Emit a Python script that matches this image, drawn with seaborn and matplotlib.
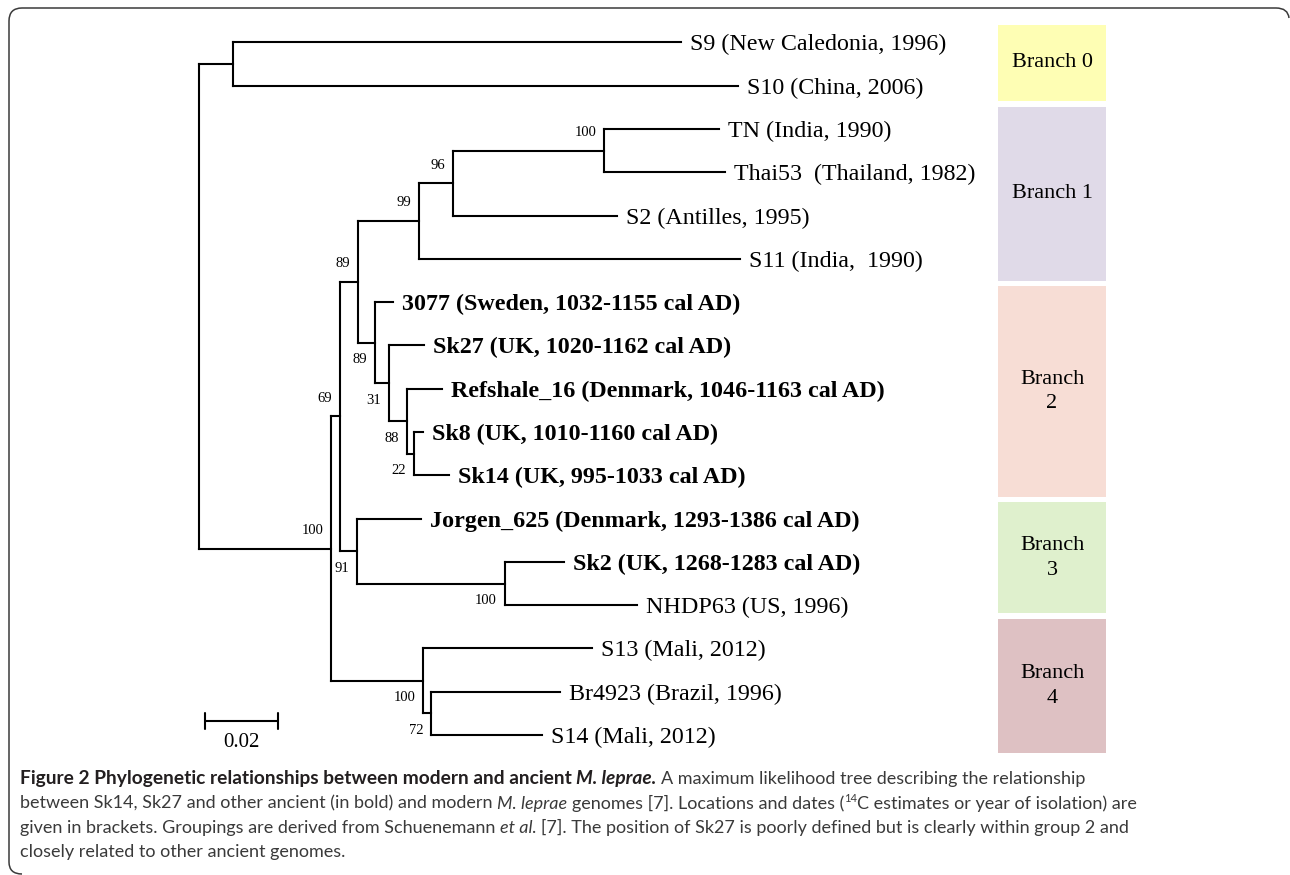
import matplotlib
matplotlib.use('Agg')
import pandas as pd
import matplotlib.pyplot as plt
import seaborn as sns
from matplotlib.patches import Rectangle, PathPatch
from matplotlib.path import Path
from matplotlib.font_manager import FontProperties

# --- tree data (node, parent, branch length in substitutions/site) ---
nodes = ['R', 'A', 'S9', 'S10', 'B', 'C', 'F', 'H', 'I', 'O', 'TN', 'Thai53', 'S2', 'S11',
         'J', '3077', 'K', 'Sk27', 'L', 'Refshale_16', 'M', 'Sk8', 'Sk14',
         'G', 'Jorgen_625', 'N', 'Sk2', 'NHDP63', 'D', 'S13', 'E', 'Br4923', 'S14']
parents = [None, 'R', 'A', 'A', 'R', 'B', 'C', 'F', 'H', 'I', 'O', 'O', 'I', 'H',
           'F', 'J', 'J', 'K', 'K', 'L', 'L', 'M', 'M',
           'C', 'G', 'G', 'N', 'N', 'B', 'D', 'D', 'E', 'E']
branch_len = [0.0, 0.0093, 0.1227, 0.1384, 0.0362, 0.0025, 0.0049, 0.0167, 0.0093, 0.0414,
              0.0315, 0.0332, 0.0449, 0.0879, 0.0047, 0.0049, 0.0038, 0.0096, 0.0049,
              0.0096, 0.0019, 0.0025, 0.0096, 0.0047, 0.0173, 0.0403, 0.0162, 0.0364,
              0.0252, 0.0463, 0.0022, 0.0353, 0.0304]

tip_order = ['S9', 'S10', 'TN', 'Thai53', 'S2', 'S11', '3077', 'Sk27', 'Refshale_16', 'Sk8',
             'Sk14', 'Jorgen_625', 'Sk2', 'NHDP63', 'S13', 'Br4923', 'S14']
tip_labels = ['S9 (New Caledonia, 1996)', 'S10 (China, 2006)', 'TN (India, 1990)',
              'Thai53  (Thailand, 1982)', 'S2 (Antilles, 1995)', 'S11 (India,  1990)',
              '3077 (Sweden, 1032-1155 cal AD)', 'Sk27 (UK, 1020-1162 cal AD)',
              'Refshale_16 (Denmark, 1046-1163 cal AD)', 'Sk8 (UK, 1010-1160 cal AD)',
              'Sk14 (UK, 995-1033 cal AD)', 'Jorgen_625 (Denmark, 1293-1386 cal AD)',
              'Sk2 (UK, 1268-1283 cal AD)', 'NHDP63 (US, 1996)', 'S13 (Mali, 2012)',
              'Br4923 (Brazil, 1996)', 'S14 (Mali, 2012)']
ancient = ['3077', 'Sk27', 'Refshale_16', 'Sk8', 'Sk14', 'Jorgen_625', 'Sk2']

support_nodes = ['B', 'C', 'F', 'H', 'I', 'O', 'J', 'K', 'L', 'M', 'G', 'N', 'D', 'E']
support_vals = [100, 69, 89, 99, 96, 100, 89, 31, 88, 22, 91, 100, 100, 72]
support_above = [True, True, True, True, True, True,
                 False, False, False, False, False, False, False, False]

branch_names = ['Branch 0', 'Branch 1', 'Branch\n2', 'Branch\n3', 'Branch\n4']
branch_colors = ['#fefeb4', '#e0dae8', '#f7ddd5', '#dff0cd', '#dec1c3']
branch_top = [-0.40, 1.49, 5.63, 10.62, 13.32]
branch_bottom = [1.35, 5.51, 10.50, 13.18, 16.41]

scale_len = 0.02

sns.set_style('white')
plt.rcParams['font.family'] = ['Liberation Serif', 'DejaVu Serif']
plt.rcParams['text.color'] = 'black'

W, H = 1290, 875
fig = plt.figure(figsize=(W / 100, H / 100), dpi=100)
ax = fig.add_axes([0, 0, 1, 1])

# node coordinates
parent_of = dict(zip(nodes, parents))
bl = dict(zip(nodes, branch_len))
children = {n: [m for m, p in zip(nodes, parents) if p == n] for n in nodes}
xpos = {}
for n in nodes:
    p = parent_of[n]
    xpos[n] = 0.0 if p is None else xpos[p] + bl[n]
ypos = {}


def set_y(n):
    if not children[n]:
        ypos[n] = tip_order.index(n)
    else:
        for c in children[n]:
            set_y(c)
        ypos[n] = (ypos[children[n][0]] + ypos[children[n][-1]]) / 2


set_y('R')

# branch segments
rows = []
k = 0
for n in nodes:
    p = parent_of[n]
    if p is not None:
        rows += [(k, xpos[p], ypos[n]), (k, xpos[n], ypos[n])]
        k += 1
    if children[n]:
        rows += [(k, xpos[n], ypos[children[n][0]]), (k, xpos[n], ypos[children[n][-1]])]
        k += 1
seg = pd.DataFrame(rows, columns=['seg', 'x', 'y'])
sns.lineplot(data=seg, x='x', y='y', units='seg', estimator=None, sort=False,
             color='black', linewidth=1.5, solid_capstyle='projecting', ax=ax, legend=False)

# tip labels
for name, lab in zip(tip_order, tip_labels):
    ax.annotate(lab, (xpos[name], ypos[name]), xytext=(9, -8), textcoords='offset pixels',
                ha='left', va='baseline', fontsize=17.3, color='black',
                fontweight='bold' if name in ancient else 'normal')

# bootstrap values
for n, v, up in zip(support_nodes, support_vals, support_above):
    ax.annotate(str(v), (xpos[n], ypos[n]), xytext=(-8, 18 if up else -17),
                textcoords='offset pixels', ha='right', va='center', fontsize=10.5,
                color='black')

# scale bar
sb_y = 15.675
ax.plot([0.0016, 0.0016 + scale_len], [sb_y, sb_y], color='black', lw=1.5)
for xx in [0.0016, 0.0016 + scale_len]:
    ax.plot([xx, xx], [sb_y - 0.185, sb_y + 0.185], color='black', lw=1.5)
ax.annotate(f'{scale_len:.2f}', (0.0016 + scale_len / 2, sb_y), xytext=(0, -22),
            textcoords='offset pixels', ha='center', va='center', fontsize=15, color='black')

# branch group boxes
bx0, bx1 = 0.2189, 0.2485
for name, col, t, b in zip(branch_names, branch_colors, branch_top, branch_bottom):
    ax.add_patch(Rectangle((bx0, t), bx1 - bx0, b - t, facecolor=col, edgecolor='none', zorder=0))
    ax.text((bx0 + bx1) / 2, (t + b) / 2, name, ha='center', va='center', color='black',
            fontsize=16, linespacing=1.42, multialignment='center')

ax.set_xlim(-199 / 3650, (W - 199) / 3650)
ax.set_ylim(2 + (H - 129) / 43.29, 2 - 129 / 43.29)
ax.axis('off')

# frame (top and left edges with rounded corners)
def fx(px):
    return px / W


def fy(py):
    return 1 - py / H


verts = [(fx(22), fy(874)), (fx(9), fy(874)), (fx(9), fy(862)), (fx(9), fy(21)),
         (fx(9), fy(8)), (fx(22), fy(8)), (fx(1276), fy(8)), (fx(1288), fy(8)), (fx(1289), fy(18))]
codes = [Path.MOVETO, Path.CURVE3, Path.CURVE3, Path.LINETO, Path.CURVE3, Path.CURVE3,
         Path.LINETO, Path.CURVE3, Path.CURVE3]
fig.add_artist(PathPatch(Path(verts, codes), facecolor='none', edgecolor='#3a3a3a', lw=1.1,
                         transform=fig.transFigure))

# caption
cap_font = 'Lato'
cap_lines = [
    [('Figure 2 Phylogenetic relationships between modern and ancient ', 'bold', 'normal'),
     ('M. leprae.', 'bold', 'italic'),
     (' A maximum likelihood tree describing the relationship', 'normal', 'normal')],
    [('between Sk14, Sk27 and other ancient (in bold) and modern ', 'normal', 'normal'),
     ('M. leprae', 'normal', 'italic'),
     (' genomes [7]. Locations and dates (', 'normal', 'normal'),
     ('14', 'sup', 'normal'),
     ('C estimates or year of isolation) are', 'normal', 'normal')],
    [('given in brackets. Groupings are derived from Schuenemann ', 'normal', 'normal'),
     ('et al', 'normal', 'italic'),
     ('. [7]. The position of Sk27 is poorly defined but is clearly within group 2 and',
      'normal', 'normal')],
    [('closely related to other ancient genomes.', 'normal', 'normal')],
]
cap_baselines = [784, 808.5, 833, 857]
cap_x0 = 20

renderer = fig.canvas.get_renderer()


def prop_for(weight, style, size, bsize):
    if weight == 'sup':
        return FontProperties(family=cap_font, weight='normal', style=style, size=size * 0.62)
    if weight == 'bold':
        return FontProperties(family=cap_font, weight='bold', style=style, size=bsize)
    return FontProperties(family=cap_font, weight=weight, style=style, size=size)


def run_width(s, prop):
    w1 = renderer.get_text_width_height_descent('x' + s + 'x', prop, False)[0]
    w0 = renderer.get_text_width_height_descent('xx', prop, False)[0]
    return w1 - w0


# fit caption size so line 2 spans the same width as in the figure
test = 12
w_test = sum(run_width(s, prop_for(wt, st, test, test)) for s, wt, st in cap_lines[1])
cap_size = test * (1131 - cap_x0) / w_test
# bold run of line 1 ends where the regular text must start
reg1 = sum(run_width(s, prop_for(wt, st, cap_size, cap_size))
           for s, wt, st in cap_lines[0] if wt != 'bold')
bold1 = sum(run_width(s, prop_for(wt, st, cap_size, cap_size))
            for s, wt, st in cap_lines[0] if wt == 'bold')
bold_size = cap_size * (1091 - cap_x0 - reg1) / bold1

for line, base in zip(cap_lines, cap_baselines):
    x = cap_x0
    for s, wt, st in line:
        prop = prop_for(wt, st, cap_size, bold_size)
        lead = len(s) - len(s.lstrip(' '))
        xd = x + (run_width(' ' * lead, prop) if lead else 0)
        yb = base - 7 if wt == 'sup' else base
        col = '#231f20' if wt == 'bold' else '#3a3a3a'
        fig.text(fx(xd), fy(yb), s.strip(' '), fontproperties=prop, color=col,
                 ha='left', va='baseline')
        x += run_width(s, prop)

fig.savefig('out.png', dpi=100)
